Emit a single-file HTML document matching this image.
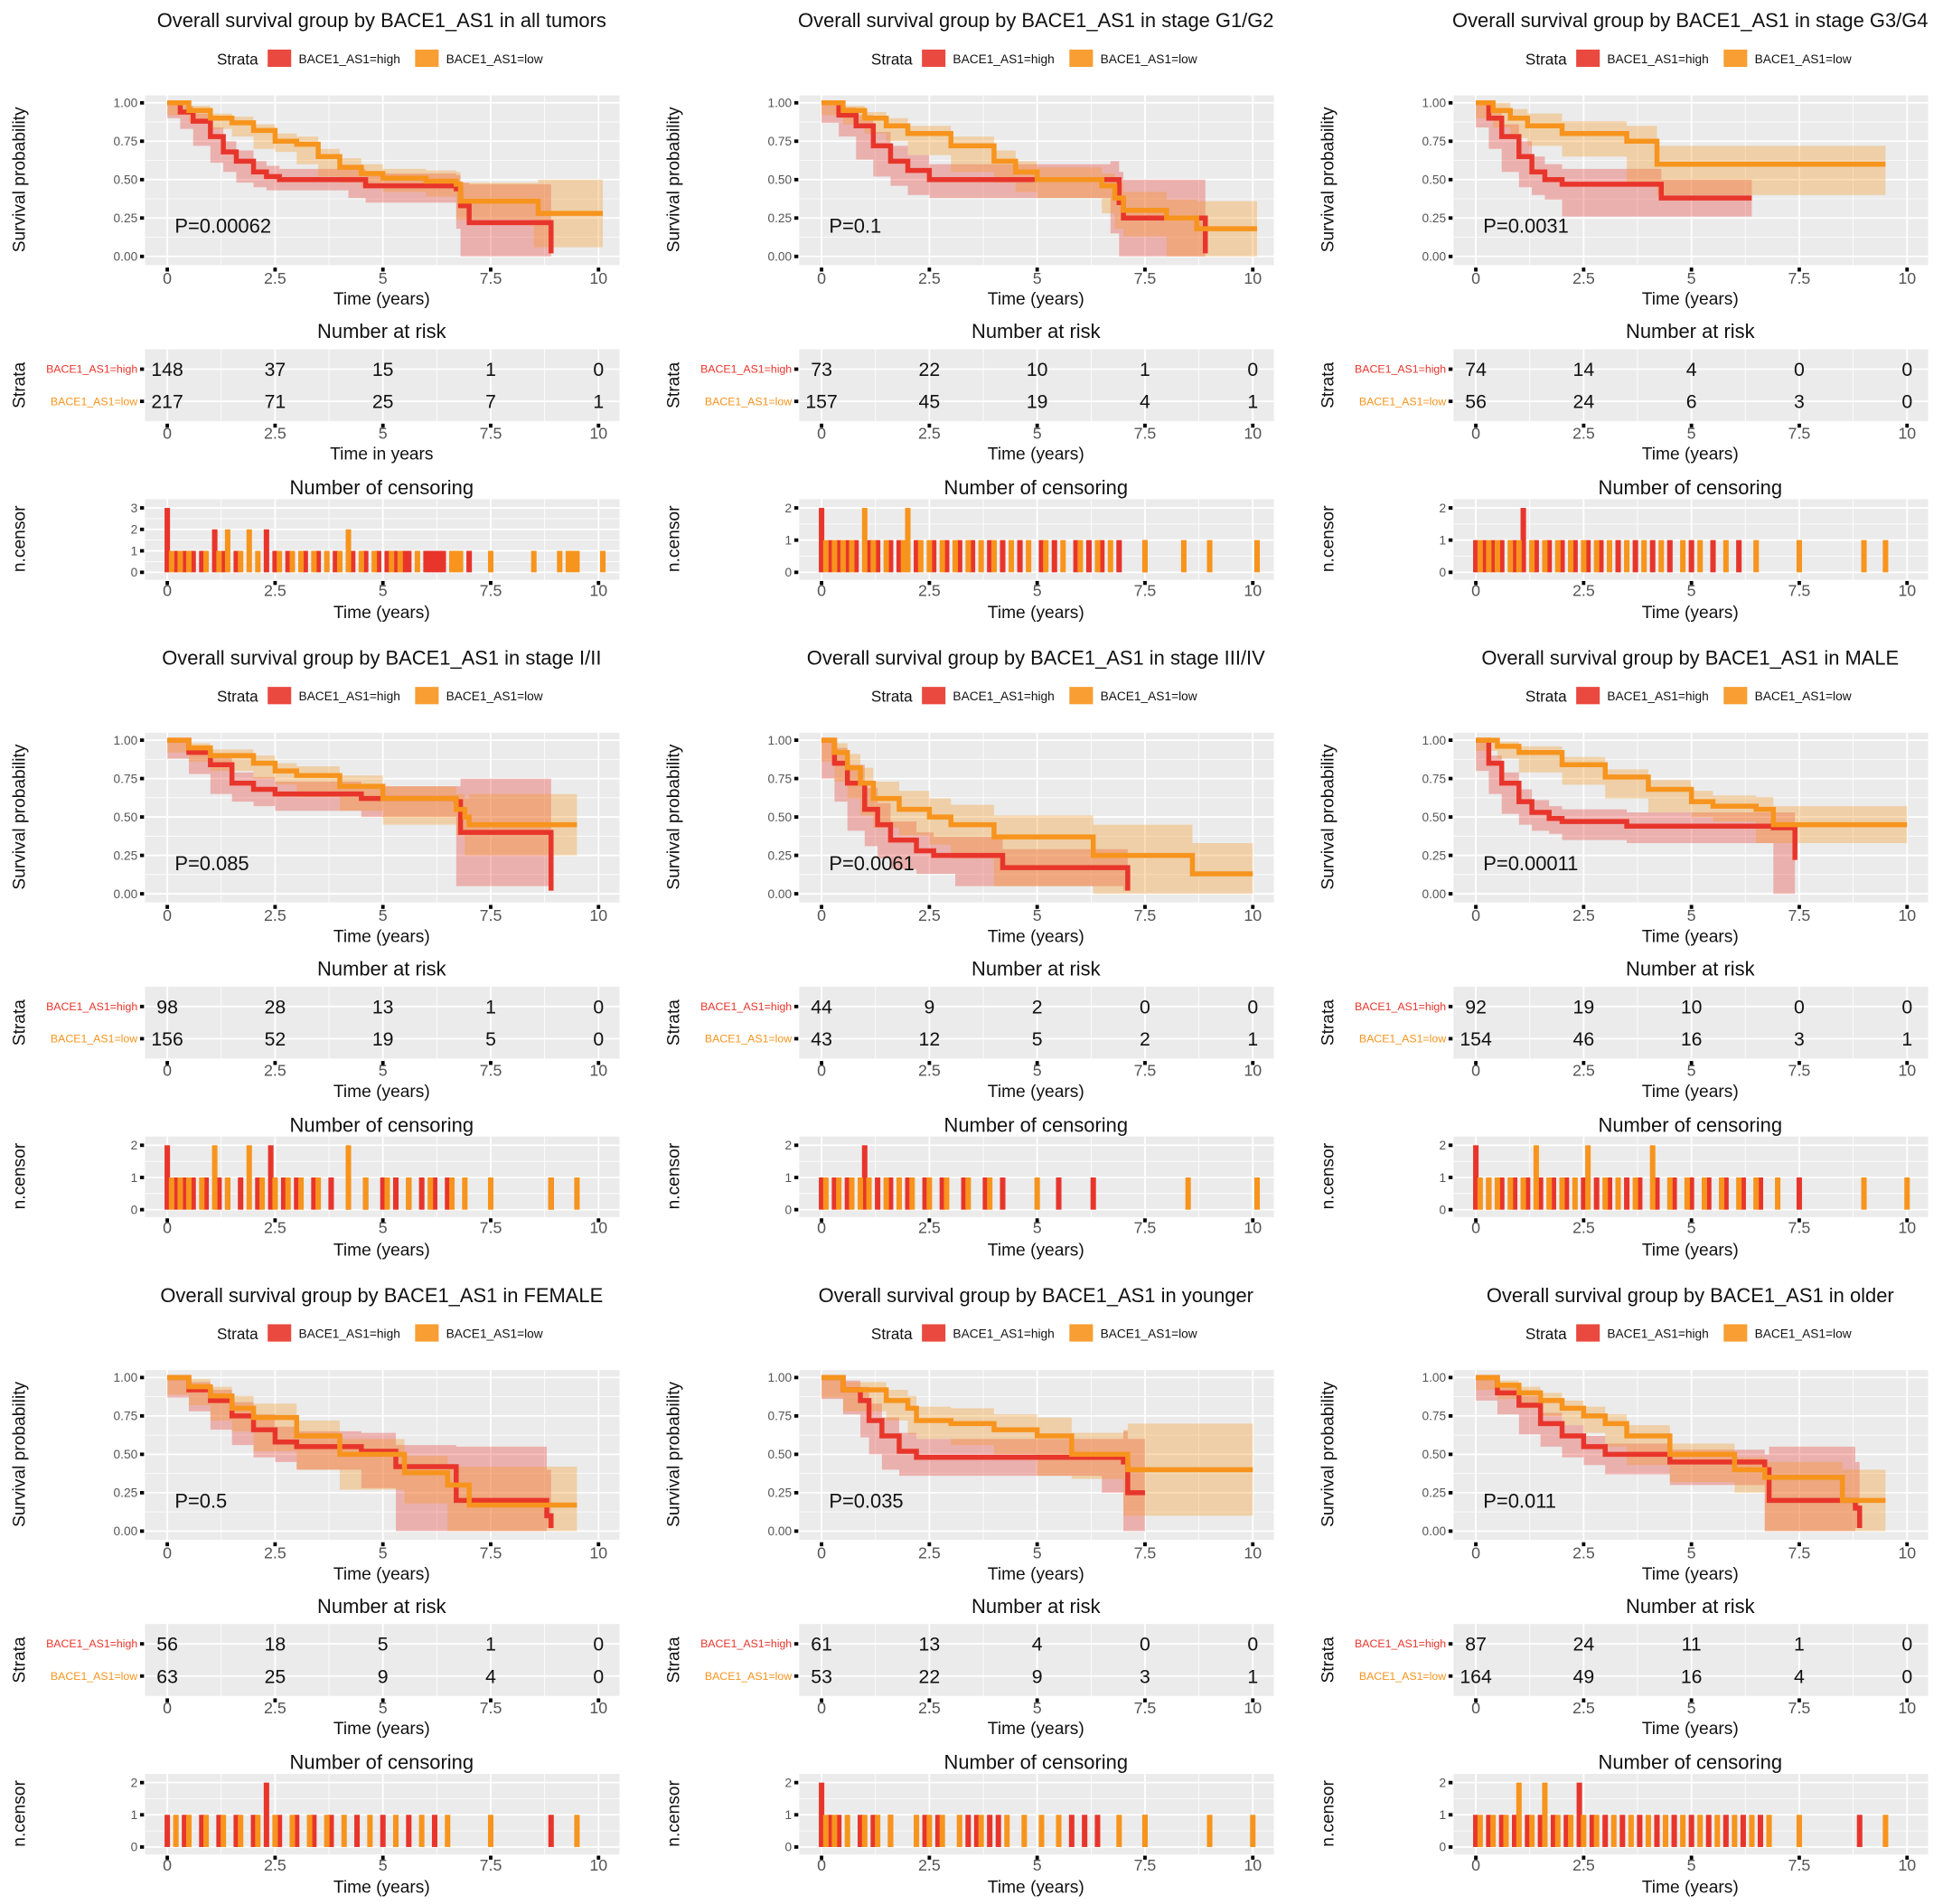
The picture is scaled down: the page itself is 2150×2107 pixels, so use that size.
<!DOCTYPE html>
<html><head><meta charset="utf-8">
<style>
html,body{margin:0;padding:0;background:#fff;}
svg{display:block;font-family:"Liberation Sans",sans-serif;}
</style></head>
<body>
<svg id="fig" width="2150" height="2107" viewBox="0 0 1568 1537" preserveAspectRatio="none" xmlns="http://www.w3.org/2000/svg"></svg>
<script>
const titles = ["all tumors","stage G1/G2","stage G3/G4","stage I/II","stage III/IV","MALE","FEMALE","younger","older"];
const pvals = ["P=0.00062","P=0.1","P=0.0031","P=0.085","P=0.0061","P=0.00011","P=0.5","P=0.035","P=0.011"];
const riskHigh = [[148,37,15,1,0],[73,22,10,1,0],[74,14,4,0,0],[98,28,13,1,0],[44,9,2,0,0],[92,19,10,0,0],[56,18,5,1,0],[61,13,4,0,0],[87,24,11,1,0]];
const riskLow = [[217,71,25,7,1],[157,45,19,4,1],[56,24,6,3,0],[156,52,19,5,0],[43,12,5,2,1],[154,46,16,3,1],[63,25,9,4,0],[53,22,9,3,1],[164,49,16,4,0]];
const riskXlab = ["Time in years","Time (years)","Time (years)","Time (years)","Time (years)","Time (years)","Time (years)","Time (years)","Time (years)"];
const censMax = [3,2,2,2,2,2,2,2,2];
const xTicks = [0,2.5,5,7.5,10];
const xTickLabels = ["0","2.5","5","7.5","10"];
const yTicks = [0,0.25,0.5,0.75,1];
const yTickLabels = ["0.00","0.25","0.50","0.75","1.00"];
const highT = [
 [0,0.3,0.6,1,1.3,1.6,2,2.3,2.6,4.2,4.6,6.7,6.8,7,8.9,8.9],
 [0,0.4,0.8,1.2,1.6,2,2.5,6.7,6.9,7,8.9,8.9],
 [0,0.3,0.6,1,1.3,1.6,2,4.3,6.4],
 [0,0.5,1,1.5,2,2.5,4.5,6.7,6.8,8.9,8.9],
 [0,0.3,0.6,1,1.3,1.6,2.2,2.6,3.1,4.2,7,7.1],
 [0,0.3,0.6,1,1.3,1.7,2,3.5,6.9,7.4],
 [0,0.5,1,1.5,2,2.5,3,4.5,5.3,6.7,8.8,8.9],
 [0,0.5,0.9,1.1,1.4,1.8,2.2,6.5,7,7.1,7.5],
 [0,0.5,1,1.5,2,2.5,3,4.5,6.7,6.8,8.8,8.9]];
const highS = [
 [1,0.94,0.88,0.78,0.68,0.62,0.55,0.52,0.5,0.5,0.46,0.44,0.33,0.22,0.22,0.02],
 [1,0.92,0.85,0.72,0.62,0.56,0.5,0.5,0.35,0.25,0.2,0.02],
 [1,0.9,0.78,0.65,0.55,0.5,0.47,0.38,0.38],
 [1,0.92,0.84,0.72,0.68,0.65,0.62,0.6,0.4,0.4,0.02],
 [1,0.85,0.72,0.55,0.45,0.35,0.28,0.25,0.25,0.17,0.17,0.02],
 [1,0.85,0.72,0.6,0.53,0.49,0.47,0.44,0.43,0.22],
 [1,0.92,0.85,0.75,0.66,0.58,0.55,0.52,0.42,0.2,0.1,0.02],
 [1,0.92,0.85,0.72,0.62,0.52,0.48,0.48,0.45,0.25,0.25],
 [1,0.9,0.82,0.7,0.62,0.55,0.5,0.45,0.4,0.2,0.15,0.02]];
const highW = [
 [0,0.04,0.05,0.06,0.07,0.07,0.07,0.07,0.07,0.07,0.08,0.09,0.15,0.25,0.25,0],
 [0,0.05,0.07,0.09,0.1,0.1,0.1,0.12,0.2,0.25,0.25,0],
 [0,0.06,0.08,0.1,0.1,0.1,0.1,0.12,0.12],
 [0,0.04,0.06,0.07,0.08,0.08,0.08,0.1,0.35,0.35,0],
 [0,0.1,0.12,0.14,0.14,0.12,0.12,0.12,0.12,0.12,0.12,0],
 [0,0.05,0.07,0.08,0.08,0.08,0.08,0.09,0.1,0.3],
 [0,0.05,0.07,0.09,0.1,0.1,0.1,0.12,0.14,0.35,0.3,0],
 [0,0.06,0.09,0.11,0.12,0.12,0.12,0.12,0.2,0.35,0.35],
 [0,0.05,0.06,0.07,0.07,0.07,0.07,0.08,0.1,0.35,0.3,0]];
const lowT = [
 [0,0.5,1,1.5,2,2.5,3,3.5,4,4.5,5,6,6.7,6.8,8.5,8.6,10.1],
 [0,0.5,1,1.5,2,3,4,4.5,5,6.5,6.8,7,8,8.7,10.1],
 [0,0.4,0.8,1.2,2,3.5,4.2,9.5],
 [0,0.5,1,2,2.5,3,4,5,6.7,6.9,7,9.5],
 [0,0.3,0.6,0.9,1.2,1.8,2.5,3,4,6.3,8.6,10],
 [0,0.5,1,2,3,4,5,5.5,6.5,6.9,10],
 [0,0.5,1,1.5,2,3,4,5.5,6.5,7,9.5],
 [0,0.5,1.5,2,2.2,3,4,5,5.8,7,7.1,10],
 [0,0.5,1,1.5,2,2.5,3,3.5,4.5,6,6.7,8.5,9.5]];
const lowS = [
 [1,0.95,0.9,0.87,0.82,0.75,0.73,0.65,0.58,0.54,0.51,0.49,0.47,0.36,0.36,0.28,0.28],
 [1,0.95,0.9,0.85,0.8,0.72,0.62,0.55,0.5,0.46,0.38,0.3,0.25,0.18,0.18],
 [1,0.95,0.9,0.85,0.8,0.75,0.6,0.6],
 [1,0.95,0.9,0.85,0.8,0.77,0.7,0.62,0.55,0.5,0.45,0.45],
 [1,0.92,0.82,0.72,0.62,0.55,0.5,0.45,0.37,0.25,0.13,0.13],
 [1,0.96,0.92,0.84,0.76,0.68,0.6,0.57,0.55,0.45,0.45],
 [1,0.94,0.88,0.8,0.74,0.62,0.5,0.38,0.3,0.17,0.17],
 [1,0.92,0.85,0.8,0.72,0.7,0.66,0.62,0.5,0.5,0.4,0.4],
 [1,0.95,0.9,0.85,0.8,0.75,0.7,0.62,0.5,0.4,0.35,0.2,0.2]];
const lowW = [
 [0,0.03,0.03,0.04,0.04,0.05,0.05,0.05,0.06,0.06,0.06,0.07,0.08,0.12,0.12,0.22,0.22],
 [0,0.03,0.04,0.05,0.05,0.06,0.07,0.07,0.08,0.08,0.1,0.12,0.12,0.18,0.18],
 [0,0.05,0.06,0.08,0.08,0.1,0.12,0.2],
 [0,0.03,0.04,0.05,0.05,0.06,0.07,0.08,0.1,0.12,0.2,0.2],
 [0,0.06,0.09,0.1,0.11,0.12,0.12,0.13,0.14,0.2,0.2,0.2],
 [0,0.03,0.04,0.05,0.05,0.06,0.07,0.07,0.08,0.12,0.12],
 [0,0.05,0.06,0.08,0.09,0.1,0.1,0.11,0.12,0.25,0.25],
 [0,0.05,0.07,0.08,0.09,0.1,0.1,0.12,0.14,0.16,0.3,0.3],
 [0,0.03,0.04,0.05,0.05,0.06,0.06,0.07,0.07,0.08,0.1,0.2,0.2]];
const censHigh = [
 [0,0,0,0.2,0.4,0.6,0.8,1.1,1.1,1.3,1.6,2.3,2.3,2.5,2.8,3.2,3.5,3.9,4.3,4.6,4.9,5.1,5.3,5.5,5.6,6.0,6.1,6.2,6.3,6.4,7.0],
 [0,0,0.2,0.4,0.6,0.8,1.1,1.3,1.6,1.8,2.2,2.6,2.9,3.2,3.5,3.9,4.2,4.6,5.1,5.4,5.9,6.2,6.5,6.9,7.5],
 [0,0.2,0.4,0.6,0.9,1.1,1.1,1.4,1.7,2.0,2.3,2.6,2.9,3.3,3.7,4.1,4.5,5.0,5.5,6.1],
 [0,0,0.2,0.4,0.6,0.9,1.2,1.4,1.7,2.1,2.4,2.4,2.7,3.0,3.4,3.8,4.2,4.6,5.0,5.3,5.6,5.9,6.2,6.5,8.9],
 [0,0.3,0.6,1.0,1.0,1.3,1.6,2.0,2.4,2.8,3.3,3.8,4.2,5.5,6.3],
 [0,0,0.3,0.6,0.9,1.2,1.5,1.8,2.1,2.5,2.8,3.1,3.5,3.8,4.2,4.6,5.0,5.4,5.8,6.2,6.6,7.5],
 [0,0.4,0.8,1.2,1.6,2.0,2.3,2.3,2.6,3.0,3.4,3.8,4.4,5.0,5.6,6.2,8.9],
 [0,0,0.2,0.4,0.9,1.2,1.6,2.4,2.7,3.4,3.6,3.9,4.1,5.8,6.1,6.4,7.5],
 [0,0.3,0.6,0.9,1.2,1.5,1.8,2.1,2.4,2.4,2.7,3.0,3.4,3.8,4.2,4.6,5.0,5.4,5.8,6.2,6.6,8.9]];
const censLow = [
 [0.1,0.3,0.5,0.9,1.2,1.4,1.4,1.7,1.9,1.9,2.1,2.6,2.9,3.1,3.4,3.7,4.0,4.2,4.2,4.5,4.8,5.2,5.4,5.8,6.6,6.7,6.8,7.5,8.5,9.1,9.3,9.4,9.5,10.1],
 [0.1,0.3,0.5,0.7,1.0,1.0,1.2,1.5,1.9,2.0,2.0,2.3,2.5,2.8,3.1,3.4,3.7,4.0,4.4,4.8,5.2,5.6,6.0,6.4,6.7,7.5,8.4,9.0,10.1],
 [0.1,0.3,0.5,0.8,1.0,1.3,1.6,1.9,2.2,2.5,2.8,3.1,3.5,3.9,4.3,4.8,5.2,5.8,6.5,7.5,9.0,9.5],
 [0.1,0.3,0.5,0.8,1.1,1.1,1.4,1.9,1.9,2.2,2.5,2.8,3.1,3.5,4.2,4.2,4.6,5.1,5.6,6.1,6.6,6.9,7.5,8.9,9.5],
 [0.1,0.4,0.7,0.9,1.1,1.5,1.8,2.1,2.5,2.9,3.4,3.9,5.0,8.5,10.1],
 [0.1,0.3,0.5,0.8,1.1,1.4,1.4,1.7,2.0,2.3,2.6,2.6,3.0,3.3,3.7,4.1,4.1,4.5,4.9,5.3,5.7,6.1,6.5,7.0,9.0,10.0],
 [0.2,0.5,0.9,1.3,1.7,2.1,2.5,2.9,3.3,3.7,4.1,4.7,5.3,5.9,6.5,7.5,9.5],
 [0.1,0.3,0.6,1.0,1.3,1.6,2.2,2.5,2.8,3.2,3.7,4.3,4.7,5.1,5.5,6.9,7.5,9.0,10.0],
 [0.1,0.4,0.7,1.0,1.0,1.3,1.6,1.6,1.9,2.2,2.5,2.8,3.2,3.6,4.0,4.4,4.8,5.2,5.6,6.0,6.4,6.8,7.5,9.5]];

const NS = "http://www.w3.org/2000/svg";
const svg = document.getElementById('fig');
const RED = "#E8352B", ORG = "#F7941D";
function mk(tag, attrs, parent, text){
  const e = document.createElementNS(NS, tag);
  for (const k in attrs) e.setAttribute(k, attrs[k]);
  if (text !== undefined) e.textContent = text;
  (parent || svg).appendChild(e);
  return e;
}
function stepPath(ts, ys, X, Y){
  let d = "M" + X(ts[0]) + "," + Y(ys[0]);
  for (let i = 1; i < ts.length; i++) d += "H" + X(ts[i]) + "V" + Y(ys[i]);
  return d;
}
function band(ts, ss, ws, X, Y){
  const up = ss.map((s,i)=>Math.min(1, s + ws[i]));
  const lo = ss.map((s,i)=>Math.max(0, s - ws[i]));
  let d = "M" + X(ts[0]) + "," + Y(up[0]);
  for (let i = 1; i < ts.length; i++) d += "H" + X(ts[i]) + "V" + Y(up[i]);
  for (let i = ts.length - 1; i >= 1; i--) d += "V" + Y(lo[i]) + "H" + X(ts[i-1]);
  d += "V" + Y(lo[0]) + "Z";
  return d;
}
function panelBg(g, x0, y0, x1, y1, X, vTicks, hMajor, hMinor){
  mk('rect', {x:x0, y:y0, width:x1-x0, height:y1-y0, fill:'#ebebeb'}, g);
  hMinor.forEach(y=>mk('line',{x1:x0,x2:x1,y1:y,y2:y,stroke:'#fff','stroke-width':0.6},g));
  hMajor.forEach(y=>mk('line',{x1:x0,x2:x1,y1:y,y2:y,stroke:'#fff','stroke-width':1.3},g));
  for (let i=0;i<vTicks.length-1;i++){const m=X((vTicks[i]+vTicks[i+1])/2); mk('line',{x1:m,x2:m,y1:y0,y2:y1,stroke:'#fff','stroke-width':0.6},g);}
  vTicks.forEach(t=>mk('line',{x1:X(t),x2:X(t),y1:y0,y2:y1,stroke:'#fff','stroke-width':1.3},g));
}
function xAxis(g, X, yTickMark, yLab){
  xTicks.forEach((t,i)=>{
    mk('rect',{x:X(t)-1.4,y:yTickMark,width:2.8,height:3.2,fill:'#000'},g);
    const tl = mk('text',{x:X(t),y:yLab,'text-anchor':'middle','font-size':13,fill:'#555'},g,xTickLabels[i]);
    
    
  });
}

for (let p = 0; p < 9; p++){
  const col = p % 3, row = Math.floor(p / 3);
  const dx = col * 528, dy = row * 514.5;
  const g = mk('g', {transform:`translate(${dx},${dy})`});
  
  
  const X = t => 135 + t * 34.8;
  const cx = 308;

  const t = mk('text',{x:cx,y:22,'text-anchor':'middle','font-size':16,fill:'#111'},g,'Overall survival group by BACE1_AS1 in ' + titles[p]);
  
  

  const lg = mk('g',{},g);
  
  
  mk('text',{x:175,y:52,'font-size':12.5,fill:'#111'},lg,'Strata');
  mk('rect',{x:216,y:40,width:19,height:14,fill:RED,opacity:0.9},lg);
  mk('text',{x:241,y:51,'font-size':10,fill:'#111'},lg,'BACE1_AS1=high');
  mk('rect',{x:335,y:40,width:19,height:14,fill:ORG,opacity:0.9},lg);
  mk('text',{x:360,y:51,'font-size':10,fill:'#111'},lg,'BACE1_AS1=low');

  const Y = s => 207 - s * 124;
  const km = mk('g',{},g);
  
  
  panelBg(km,117,77,500,214,X,xTicks,yTicks.map(Y),[0.125,0.375,0.625,0.875].map(Y));
  yTicks.forEach((v,i)=>{
    mk('rect',{x:113,y:Y(v)-1.4,width:3.2,height:2.8,fill:'#000'},km);
    mk('text',{x:111,y:Y(v)+3.5,'text-anchor':'end','font-size':10,fill:'#555'},km,yTickLabels[i]);
  });
  xAxis(km, X, 216, 229);
  const bH = mk('path',{d:band(highT[p],highS[p],highW[p],X,Y),fill:RED,'fill-opacity':0.32},km);
  
  
  const bL = mk('path',{d:band(lowT[p],lowS[p],lowW[p],X,Y),fill:ORG,'fill-opacity':0.32},km);
  
  
  const cH = mk('path',{d:stepPath(highT[p],highS[p],X,Y),fill:'none',stroke:RED,'stroke-width':4},km);
  
  
  const cL = mk('path',{d:stepPath(lowT[p],lowS[p],X,Y),fill:'none',stroke:ORG,'stroke-width':4},km);
  
  
  const pv = mk('text',{x:141,y:188,'font-size':16,fill:'#111'},km,pvals[p]);
  
  
  mk('text',{x:cx,y:246,'text-anchor':'middle','font-size':14,fill:'#111'},km,'Time (years)');
  mk('text',{x:0,y:0,transform:'translate(20,145) rotate(-90)','text-anchor':'middle','font-size':14,fill:'#111'},km,'Survival probability');

  const rk = mk('g',{},g);
  
  
  mk('text',{x:cx,y:273,'text-anchor':'middle','font-size':16,fill:'#111'},rk,'Number at risk');
  panelBg(rk,117,282,500,340,X,xTicks,[298,324],[]);
  [[298,riskHigh[p],RED,'BACE1_AS1=high'],[324,riskLow[p],ORG,'BACE1_AS1=low']].forEach(([yy,vals,c,lab])=>{
    mk('rect',{x:113,y:yy-1.4,width:3.2,height:2.8,fill:'#000'},rk);
    mk('text',{x:111,y:yy+3,'text-anchor':'end','font-size':9,fill:c},rk,lab);
    vals.forEach((v,i)=>{
      const n = mk('text',{x:X(xTicks[i]),y:yy+5.5,'text-anchor':'middle','font-size':15.5,fill:'#111'},rk,String(v));
      
      
    });
  });
  xAxis(rk, X, 342, 354);
  mk('text',{x:cx,y:371,'text-anchor':'middle','font-size':14,fill:'#111'},rk,riskXlab[p]);
  mk('text',{x:0,y:0,transform:'translate(20,311) rotate(-90)','text-anchor':'middle','font-size':14,fill:'#111'},rk,'Strata');

  const cs = mk('g',{},g);
  
  
  mk('text',{x:cx,y:399,'text-anchor':'middle','font-size':16,fill:'#111'},cs,'Number of censoring');
  const cm = censMax[p];
  const CY = c => 462 - c * (52 / cm);
  const majors = [], minors = [];
  for (let k=0;k<=cm;k++){ majors.push(CY(k)); if(k<cm) minors.push(CY(k+0.5)); }
  panelBg(cs,117,403,500,468,X,xTicks,majors,minors);
  for (let k=0;k<=cm;k++){
    mk('rect',{x:113,y:CY(k)-1.4,width:3.2,height:2.8,fill:'#000'},cs);
    mk('text',{x:111,y:CY(k)+3.5,'text-anchor':'end','font-size':10,fill:'#555'},cs,String(k));
  }
  [[censHigh[p],RED],[censLow[p],ORG]].forEach(([arr,c])=>{
    const counts = {};
    arr.forEach(tt=>{counts[tt]=(counts[tt]||0)+1;});
    Object.keys(counts).forEach(k=>{
      const tt = parseFloat(k), n = counts[k];
      const b = mk('rect',{x:X(tt)-2.2,y:CY(n),width:4.4,height:CY(0)-CY(n),fill:c},cs);
      
      
    });
  });
  xAxis(cs, X, 469, 481);
  mk('text',{x:cx,y:499,'text-anchor':'middle','font-size':14,fill:'#111'},cs,'Time (years)');
  mk('text',{x:0,y:0,transform:'translate(20,435) rotate(-90)','text-anchor':'middle','font-size':14,fill:'#111'},cs,'n.censor');
}
</script>
</body></html>
